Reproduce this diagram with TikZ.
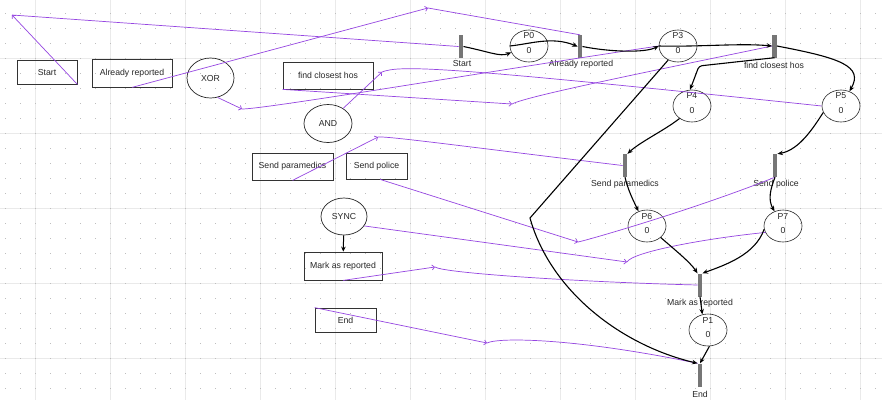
\documentclass[tikz,border=0pt]{standalone}
\usepackage{fontspec}
\setmainfont{Liberation Sans}
\usetikzlibrary{shapes.geometric,arrows.meta}
\definecolor{plink}{RGB}{150,70,225}
\definecolor{txt}{RGB}{40,40,40}
\definecolor{transc}{RGB}{118,118,118}
\definecolor{gridline}{RGB}{234,234,234}
\definecolor{griddot}{RGB}{190,190,190}
\begin{document}
\begin{tikzpicture}[x=1pt,y=-1pt,
  every node/.style={font=\fontsize{8.7}{10}\selectfont, text=txt},
  ebox/.style={draw=black!80, line width=0.8pt, inner sep=0pt},
  eell/.style={draw=black!85, line width=0.7pt, ellipse, inner sep=0pt},
  place/.style={draw=black!85, line width=0.6pt, ellipse, minimum width=38pt, minimum height=32pt, inner sep=0pt},
  trs/.style={fill=transc, draw=none, minimum width=4.5pt, minimum height=23pt, inner sep=0pt},
  tlab/.style={inner sep=0pt},
  pc/.style={draw=black, line width=1.1pt, -{Stealth[length=5.5pt,width=4.5pt]}},
  plk/.style={draw=plink, line width=0.7pt},
  plka/.style={draw=plink, line width=0.7pt, -{Straight Barb[length=2.5pt,width=5pt]}}]
\useasboundingbox (0,0) rectangle (882,400);
\fill[white] (0,0) rectangle (882,400);
% grid
\foreach \x in {35,110,...,880} \draw[gridline, line width=0.8pt] (\x,0) -- (\x,400);
\foreach \y in {58,133,...,400} \draw[gridline, line width=0.8pt] (0,\y) -- (882,\y);
\foreach \x in {5,20,...,880} \foreach \y in {13,28,...,400} \fill[griddot] (\x,\y) rectangle +(1.2,1.2);

% editor side
\node[ebox, minimum width=60pt, minimum height=24pt] (rStart) at (47,72) {Start};
\node[ebox, minimum width=80pt, minimum height=28pt] (rAlr) at (132,73) {Already reported};
\node[eell, minimum width=47pt, minimum height=40pt] (eXor) at (210.5,78) {XOR};
\node[ebox, minimum width=90pt, minimum height=27pt] (rFind) at (328,75.5) {find closest hos};
\node[eell, minimum width=48pt, minimum height=38pt] (eAnd) at (328,123.5) {AND};
\node[ebox, minimum width=81pt, minimum height=27pt] (rPara) at (292.5,166.5) {Send paramedics};
\node[ebox, minimum width=61pt, minimum height=26pt] (rPol) at (376.5,166) {Send police};
\node[eell, minimum width=46pt, minimum height=37pt] (eSync) at (344,216.5) {SYNC};
\node[ebox, minimum width=78pt, minimum height=28pt] (rMark) at (343,266) {Mark as reported};
\node[ebox, minimum width=61pt, minimum height=24pt] (rEnd) at (345.5,320) {End};
\draw[draw=black, line width=1pt, -{Stealth[length=5pt,width=4.5pt]}] (eSync) -- (rMark);

% petri net: transitions
\node[trs] (tStart) at (461,46.5) {};
\node[trs] (tAlr) at (580,46.5) {};
\node[trs] (tFind) at (774.5,46) {};
\node[trs] (tPara) at (625,165.5) {};
\node[trs] (tPol) at (775,165.5) {};
\node[trs] (tMark) at (700,285) {};
\node[trs] (tEnd) at (700,375) {};
\node[tlab] (lStart) at (462,64) {Start};
\node[tlab] (lAlr) at (581,64) {Already reported};
\node[tlab] (lFind) at (774,65) {find closest hos};
\node[tlab] (lPara) at (625,184) {Send paramedics};
\node[tlab] (lPol) at (776,184) {Send police};
\node[tlab] (lMark) at (700,303) {Mark as reported};
\node[tlab] (lEnd) at (700,394) {End};

% places
\node[place] (p0) at (529,46) {};
\node[place] (p3) at (678,46) {};
\node[place] (p4) at (692,106) {};
\node[place] (p5) at (841,106) {};
\node[place] (p6) at (647,226) {};
\node[place] (p7) at (783,226) {};
\node[place] (p1) at (708,330) {};
\foreach \p/\n in {p0/P0,p3/P3,p4/P4,p5/P5,p6/P6,p7/P7,p1/P1}{
  \node[tlab] (\p n) at ([yshift=10pt]\p.center) {\n};
  \node[tlab] (\p v) at ([yshift=-4pt]\p.center) {0};
}

% purple mapping links
\coordinate (m1) at (12,15);
\coordinate (m2) at (428,8);
\coordinate (m3) at (242,109);
\coordinate (m4) at (512,104);
\coordinate (m5) at (382,72);
\coordinate (m6) at (378,137);
\coordinate (m7) at (578,242);
\coordinate (m8) at (627,262);
\coordinate (m9) at (435,267);
\coordinate (m10) at (487,343);
\draw[plka] (rStart.south east) -- (m1);
\draw[plk] (m1) -- (tStart.west);
\draw[plka] (rAlr.south) -- (m2);
\draw[plk] (m2) -- (tAlr.north);
\draw[plka] (eXor.-70) -- (m3);
\draw[plk] (m3) .. controls +(25,0) and +(-150,22) .. (p3.west);
\draw[plka] (rFind.south west) -- (m4);
\draw[plk] (m4) .. controls +(15,-8) and +(-120,25) .. (tFind.west);
\draw[plka] (eAnd.45) -- (m5);
\draw[plk] (m5) .. controls +(18,-7) and +(-380,-40) .. (p5.west);
\draw[plka] (rPara.south) -- (m6);
\draw[plk] (m6) .. controls +(10,-1) and +(-150,-18) .. (tPara.west);
\draw[plka] (rPol.-75) -- (m7);
\draw[plk] (m7) .. controls +(10,-2) and +(-80,32) .. (tPol.south);
\draw[plka] (eSync.-25) -- (m8);
\draw[plk] (m8) .. controls +(5,-10) and +(-60,6) .. (p7.200);
\draw[plka] (rMark.south) -- (m9);
\draw[plk] (m9) .. controls +(8,6) and +(-120,-3) .. (tMark.west);
\draw[plka] (rEnd.north west) -- (m10);
\draw[plk] (m10) .. controls +(12,-6) and +(-120,-25) .. (tEnd.north west);

% petri arcs
\coordinate (c4) at (699,66);
\coordinate (k) at (530,218);
\draw[pc] (tStart.east) .. controls (490,52) and (500,57) .. (p0.200);
\draw[pc] (p0.west) .. controls (530,44) and (552,36) .. (tAlr.west);
\draw[pc] (tAlr.east) .. controls (610,52) and (645,53) .. (p3.west);
\draw[pc] (p3.west) .. controls (700,47) and (740,43) .. (tFind.west);
\draw[pc, rounded corners=3pt] (tFind.south) -- (c4) -- (p4.97);
\draw[pc] (tFind.east) .. controls (840,58) and (864,66) .. (p5.60);
\draw[pc] (p4.225) .. controls (665,130) and (640,142) .. (tPara.north east);
\draw[pc] (p5.200) .. controls (815,125) and (800,150) .. (tPol.north east);
\draw[pc] (tPara.south) .. controls (628,190) and (633,200) .. (p6.120);
\draw[pc] (tPol.south) .. controls (770,190) and (768,200) .. (p7.120);
\draw[pc] (p6.-40) .. controls (675,250) and (690,262) .. (tMark.north west);
\draw[pc] (p7.190) .. controls (755,255) and (725,265) .. (tMark.north east);
\draw[pc] (tMark.south) -- (p1.110);
\draw[pc] (p1.-85) -- (tEnd.north);
\draw[pc] (p3.235) -- (k) .. controls (550,290) and (620,345) .. (tEnd.north west);
\end{tikzpicture}
\end{document}
